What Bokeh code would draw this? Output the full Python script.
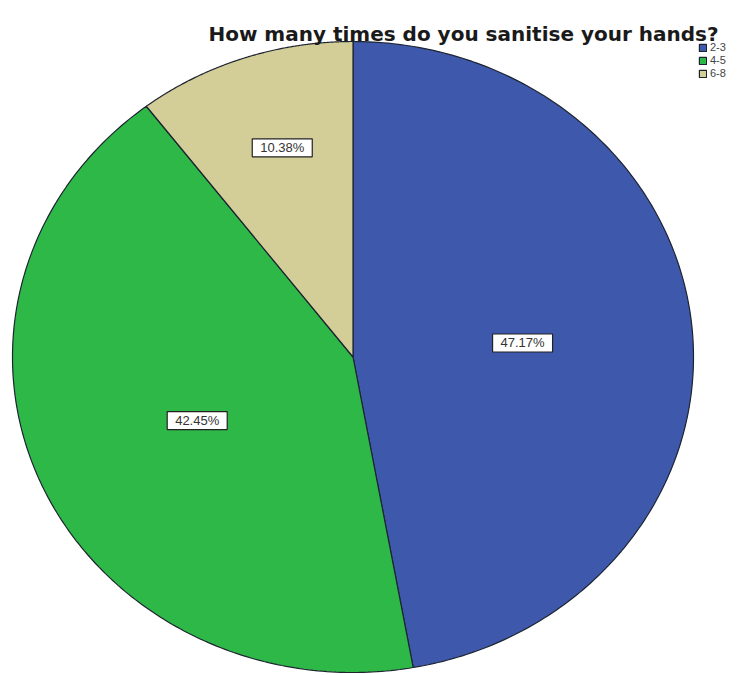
import numpy as np
from bokeh.plotting import figure
from bokeh.models import Range1d, Legend, LegendItem, ColumnDataSource
from bokeh.core.properties import value
from bokeh.embed import file_html
from bokeh.resources import INLINE

# ---- data ----
categories = ["2-3", "4-5", "6-8"]
percents = [47.17, 42.45, 10.38]
colors = ["#3E58AC", "#2EB848", "#D3CE97"]
title_text = "How many times do you sanitise your hands?"

W, H = 745, 675
cx, cy = 352.5, 356.5
rx, ry = 340.5, 315.5

p = figure(width=W, height=H, output_backend="svg", toolbar_location=None,
           x_range=Range1d(0, W), y_range=Range1d(H, 0), min_border=0)
p.axis.visible = False
p.grid.visible = False
p.outline_line_color = None
p.background_fill_color = "white"
p.border_fill_color = "white"

total = sum(percents)
start = 0.0
renderers = []
label_x, label_y, label_t = [], [], []
for cat, pct, col in zip(categories, percents, colors):
    ang = pct / total * 2 * np.pi
    th = np.linspace(start, start + ang, 200)
    xs = np.concatenate([[cx], cx + rx * np.sin(th), [cx]])
    ys = np.concatenate([[cy], cy - ry * np.cos(th), [cy]])
    src = ColumnDataSource(dict(x=xs, y=ys))
    r = p.patch("x", "y", source=src, fill_color=col, line_color="#1d2430",
                line_width=1.2)
    renderers.append((cat, r))
    mid = start + ang / 2
    frac = 0.5 if pct > 20 else 0.7
    label_x.append(cx + frac * ry * np.sin(mid) * (rx / ry if pct > 20 else 1.0))
    label_y.append(cy - frac * ry * np.cos(mid))
    label_t.append(f"{pct:.2f}%")
    start += ang

lsrc = ColumnDataSource(dict(x=label_x, y=label_y, t=label_t))
p.rect("x", "y", width=60, height=18, source=lsrc, fill_color="white",
       line_color="#222222", line_width=1.2)
p.text("x", "y", text="t", source=lsrc, text_align="center",
       text_baseline="middle", text_font=value("Liberation Sans"),
       text_font_size="13px", text_color="#333333")

p.text(x=[463], y=[33], text=[title_text], text_align="center",
       text_baseline="alphabetic", text_font=value("DejaVu Sans"),
       text_font_style="bold", text_font_size="20px", text_color="#1a1a1a")

legend = Legend(items=[LegendItem(label=c, renderers=[r]) for c, r in renderers],
                location=(698, 596), orientation="vertical",
                glyph_width=9, glyph_height=9, label_height=9,
                label_standoff=3, spacing=1, padding=0, margin=0,
                label_text_font="Liberation Sans",
                label_text_font_size="11px", label_text_color="#444444",
                border_line_alpha=0, background_fill_alpha=0)
p.add_layout(legend)

open("out.html", "w").write(file_html(p, INLINE))
